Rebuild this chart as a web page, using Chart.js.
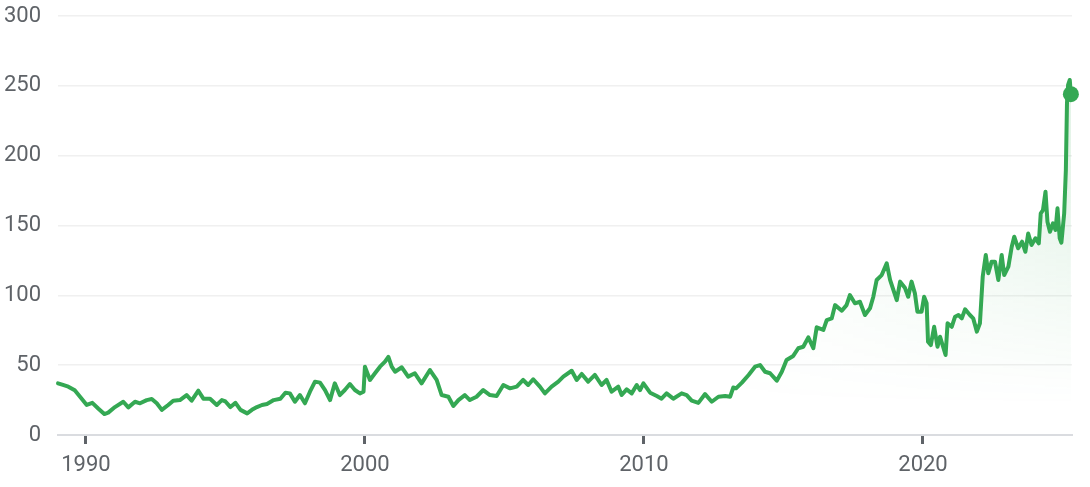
<!DOCTYPE html>
<html>
<head>
<meta charset="utf-8">
<script src="https://cdn.jsdelivr.net/npm/chart.js@4.4.1/dist/chart.umd.min.js"></script>
<style>
  body { margin: 0; background: #fff; }
</style>
</head>
<body>
<canvas id="priceChart" width="1090" height="487"></canvas>
<script>
// values
const years = [
  1989.00, 1989.15, 1989.37, 1989.60, 1989.79, 1990.03, 1990.23, 1990.44, 1990.66, 1990.80,
  1991.04, 1991.34, 1991.52, 1991.76, 1991.94, 1992.18, 1992.36, 1992.54, 1992.72, 1992.95,
  1993.13, 1993.37, 1993.61, 1993.79, 1994.03, 1994.21, 1994.45, 1994.69, 1994.87, 1995.00,
  1995.18, 1995.36, 1995.54, 1995.78, 1995.95, 1996.13, 1996.31, 1996.49, 1996.73, 1996.97,
  1997.15, 1997.31, 1997.49, 1997.67, 1997.85, 1998.03, 1998.21, 1998.39, 1998.57, 1998.75,
  1998.92, 1999.10, 1999.28, 1999.46, 1999.64, 1999.82, 1999.95, 2000.00, 2000.18, 2000.36,
  2000.54, 2000.72, 2000.84, 2000.96, 2001.08, 2001.32, 2001.55, 2001.79, 2002.03, 2002.33,
  2002.57, 2002.75, 2002.99, 2003.17, 2003.35, 2003.58, 2003.76, 2004.00, 2004.24, 2004.48,
  2004.72, 2004.96, 2005.20, 2005.44, 2005.67, 2005.85, 2006.03, 2006.27, 2006.45, 2006.69,
  2006.93, 2007.11, 2007.41, 2007.59, 2007.77, 2008.00, 2008.24, 2008.48, 2008.66, 2008.84,
  2009.08, 2009.20, 2009.38, 2009.56, 2009.74, 2009.86, 2009.98, 2010.22, 2010.46, 2010.63,
  2010.81, 2011.05, 2011.35, 2011.53, 2011.71, 2011.95, 2012.19, 2012.43, 2012.67, 2012.91,
  2013.09, 2013.20, 2013.30, 2013.51, 2013.75, 2013.98, 2014.16, 2014.34, 2014.52, 2014.76,
  2014.94, 2015.11, 2015.35, 2015.53, 2015.71, 2015.89, 2016.07, 2016.19, 2016.43, 2016.55,
  2016.73, 2016.85, 2017.09, 2017.26, 2017.38, 2017.56, 2017.74, 2017.92, 2018.10, 2018.22,
  2018.34, 2018.52, 2018.70, 2018.82, 2019.06, 2019.18, 2019.35, 2019.47, 2019.59, 2019.71,
  2019.80, 2019.95, 2020.04, 2020.13, 2020.18, 2020.28, 2020.40, 2020.52, 2020.61, 2020.72,
  2020.81, 2020.88, 2021.03, 2021.15, 2021.27, 2021.39, 2021.51, 2021.68, 2021.80, 2021.93,
  2022.04, 2022.14, 2022.25, 2022.34, 2022.46, 2022.58, 2022.70, 2022.82, 2022.91, 2023.06,
  2023.18, 2023.27, 2023.41, 2023.55, 2023.67, 2023.77, 2023.89, 2024.03, 2024.15, 2024.22,
  2024.30, 2024.39, 2024.46, 2024.55, 2024.66, 2024.75, 2024.82, 2024.90, 2024.96, 2025.06,
  2025.12, 2025.16, 2025.20, 2025.26, 2025.30
];
const prices = [
  37, 36, 34.6, 32, 27.4, 21.5, 23, 19, 15, 16,
  20, 23.8, 19.8, 23.8, 22.7, 25, 25.8, 22.7, 18, 21.5,
  24.6, 25, 28.6, 24.6, 31.7, 26, 26, 21.5, 25, 24,
  20, 23, 18, 15.5, 18, 20, 21.5, 22.2, 25, 26,
  30.3, 29.8, 23.8, 28.6, 22.7, 31, 38.2, 37.5, 32.2, 25,
  37, 28.6, 32.2, 36.5, 32.2, 29.8, 31, 48.9, 39.4, 44.2,
  48.9, 52.5, 56, 48.9, 45.3, 48.5, 41.8, 44.2, 37, 46.5,
  39.4, 28.6, 27.4, 20.8, 25, 28.6, 25, 27.4, 32.2, 28.6,
  27.9, 35.8, 33.4, 34.6, 39.4, 35.8, 39.9, 34.6, 29.8, 34.6,
  38.2, 41.8, 46, 39.4, 43.7, 38.2, 43, 35.8, 39.4, 31,
  34.6, 28.6, 32.7, 29.8, 35.8, 32.2, 37, 30.3, 27.9, 26,
  29.8, 26, 29.8, 28.6, 24.6, 23, 29.3, 23.8, 27.4, 27.9,
  27.4, 34, 33.4, 37.5, 43, 48.9, 50.1, 45.3, 44.2, 38.9,
  45.3, 53.7, 56.6, 62.1, 63.2, 69.9, 62.1, 77.1, 75.2, 82.3,
  83.5, 93, 89, 93, 100.2, 94.3, 95.4, 85.9, 90.7, 99,
  111, 114.5, 122.9, 111, 96.6, 109.8, 105.5, 99, 109.8, 101.4,
  88.3, 88.3, 99, 94.3, 66.8, 64.4, 77.5, 63.2, 70.4, 63.2,
  57.3, 80, 77.5, 84.7, 85.9, 83.5, 90, 85.9, 83.5, 74,
  80, 113.3, 128.9, 115.8, 124.1, 124.1, 111, 128.9, 114.5, 120.5,
  134.8, 142, 133.7, 138.4, 131.2, 144.3, 136, 140.8, 137.2, 158.7,
  161, 174.2, 152.7, 145.5, 151.6, 146.8, 162.3, 140.8, 137.7, 158.7,
  189.7, 237.5, 250.6, 254.2, 244
];
const xTicks = [1990, 2000, 2010, 2020];
const yTicks = [0, 50, 100, 150, 200, 250, 300];

const green = '#34a853';
let fillCache = null;

// fill fades in toward the right and fades out toward the bottom
function areaFill(ctx) {
  const chart = ctx.chart;
  const a = chart.chartArea;
  if (!a) return 'transparent';
  if (fillCache) return fillCache;
  const off = document.createElement('canvas');
  off.width = chart.width;
  off.height = chart.height;
  const g = off.getContext('2d');
  const h = g.createLinearGradient(a.left + (a.right - a.left) * 0.6, 0, a.right, 0);
  h.addColorStop(0, 'rgba(52,168,83,0)');
  h.addColorStop(1, 'rgba(52,168,83,0.15)');
  g.fillStyle = h;
  g.fillRect(0, 0, off.width, off.height);
  g.globalCompositeOperation = 'destination-in';
  const v = g.createLinearGradient(0, a.top + 120, 0, a.bottom - 30);
  v.addColorStop(0, 'rgba(0,0,0,1)');
  v.addColorStop(1, 'rgba(0,0,0,0)');
  g.fillStyle = v;
  g.fillRect(0, 0, off.width, off.height);
  fillCache = chart.ctx.createPattern(off, 'no-repeat');
  return fillCache;
}

const tickFont = { family: 'Roboto', size: 22 };

new Chart(document.getElementById('priceChart'), {
  type: 'line',
  data: {
    datasets: [{
      data: years.map((yr, i) => ({ x: yr, y: prices[i] })),
      borderColor: green,
      borderWidth: 4,
      borderJoinStyle: 'round',
      borderCapStyle: 'round',
      tension: 0,
      fill: 'origin',
      backgroundColor: areaFill,
      pointRadius: ctx => (ctx.dataIndex === prices.length - 1 ? 8 : 0),
      pointBackgroundColor: green,
      pointBorderWidth: 0,
      clip: 12
    }]
  },
  options: {
    responsive: false,
    animation: false,
    layout: { padding: { top: 16, right: 18, bottom: 0, left: 0 } },
    plugins: { legend: { display: false }, tooltip: { enabled: false } },
    scales: {
      x: {
        type: 'linear',
        min: 1989.0,
        max: 2025.34,
        afterBuildTicks: s => { s.ticks = xTicks.map(v => ({ value: v })); },
        afterFit: s => { s.height = 52; s.paddingLeft = 0; s.paddingRight = 0; },
        grid: {
          drawOnChartArea: false,
          drawTicks: true,
          tickLength: 9,
          tickWidth: 3,
          tickColor: '#5f6368'
        },
        border: { display: true, color: '#dadce0', width: 2 },
        ticks: {
          font: tickFont,
          color: '#5f6368',
          padding: 8,
          maxRotation: 0,
          callback: v => String(v)
        }
      },
      y: {
        min: 0,
        max: 300,
        afterBuildTicks: s => { s.ticks = yTicks.map(v => ({ value: v })); },
        afterFit: s => { s.width = 58; s.paddingTop = 0; s.paddingBottom = 0; },
        grid: { color: '#f0f0f0', lineWidth: 1.5, drawTicks: false },
        border: { display: false },
        ticks: { font: tickFont, color: '#5f6368', padding: 17 }
      }
    }
  }
});
</script>
</body>
</html>
